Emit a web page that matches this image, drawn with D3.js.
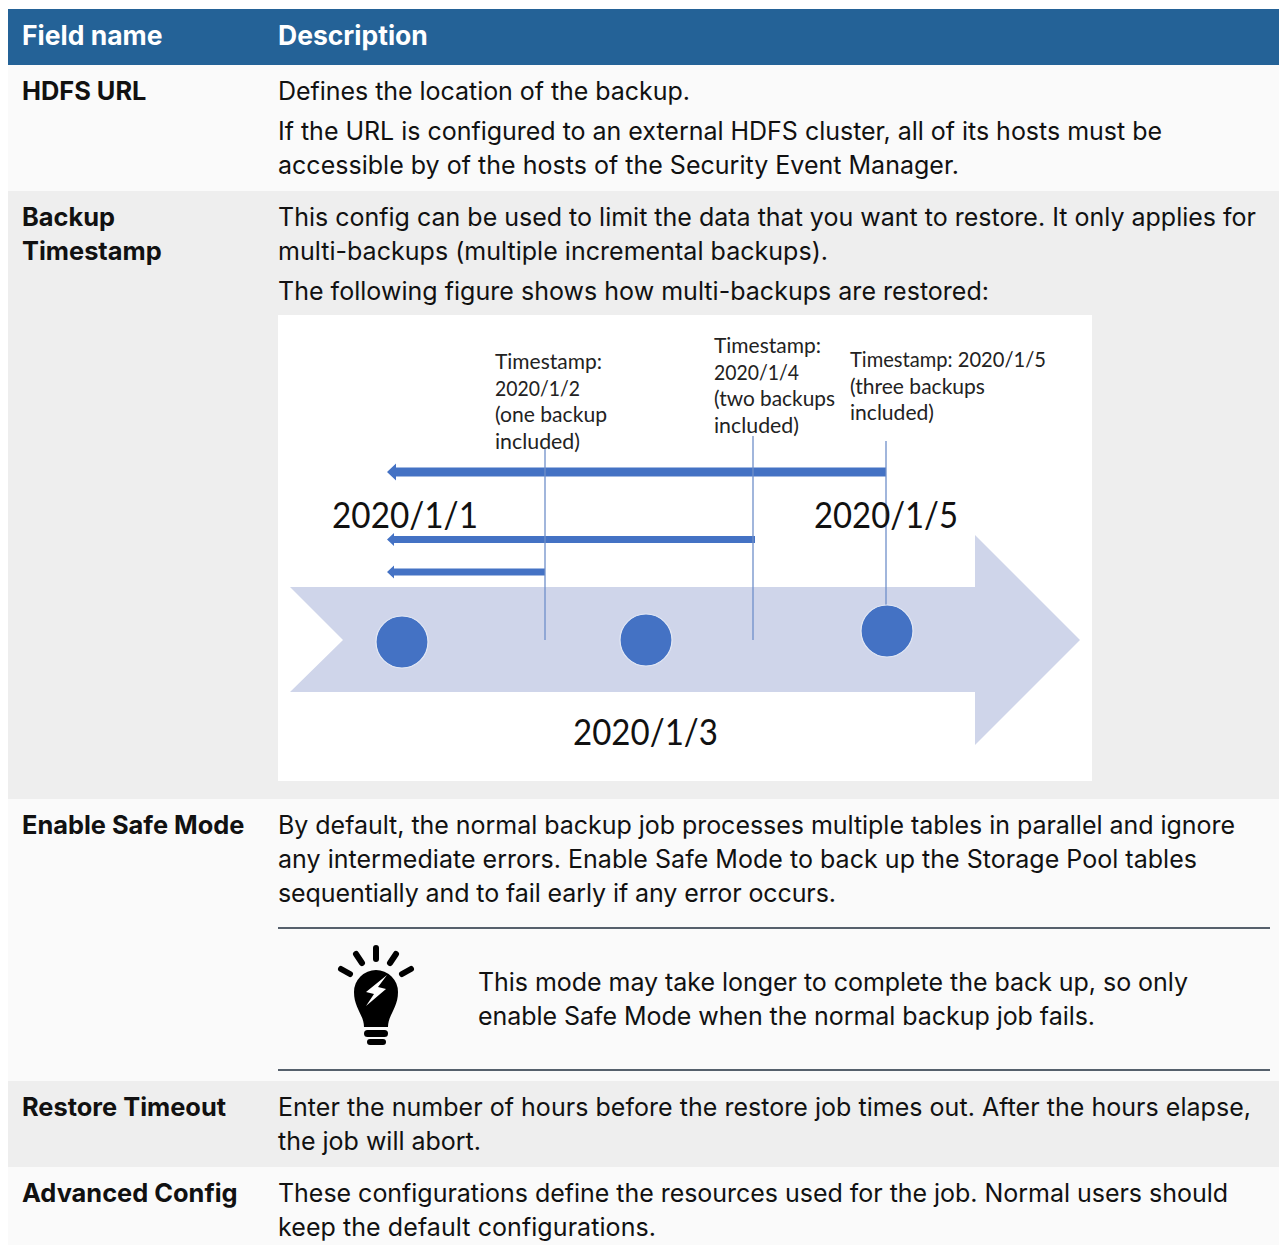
<!DOCTYPE html>
<html><head><meta charset="utf-8">
<script src="https://cdn.jsdelivr.net/npm/d3@7"></script>
<style>html,body{margin:0;padding:0;background:#fff}svg{display:block}</style>
</head><body><svg id="c" width="1279" height="1245"></svg>
<script>
const headers = ["Field name","Description"];
const fieldNames = [["HDFS URL"],["Backup","Timestamp"],["Enable Safe Mode"],["Restore Timeout"],["Advanced Config"]];
const descriptions = [
 ["Defines the location of the backup.","If the URL is configured to an external HDFS cluster, all of its hosts must be","accessible by of the hosts of the Security Event Manager."],
 ["This config can be used to limit the data that you want to restore. It only applies for","multi-backups (multiple incremental backups).","The following figure shows how multi-backups are restored:"],
 ["By default, the normal backup job processes multiple tables in parallel and ignore","any intermediate errors. Enable Safe Mode to back up the Storage Pool tables","sequentially and to fail early if any error occurs."],
 ["Enter the number of hours before the restore job times out. After the hours elapse,","the job will abort."],
 ["These configurations define the resources used for the job. Normal users should","keep the default configurations."]
];
const noteLines = ["This mode may take longer to complete the back up, so only","enable Safe Mode when the normal backup job fails."];
const days = [1,2,3,4,5];
const backupDays = [2,4,5];
const markerDays = [1,3,5];
const stampLabels = [
 ["Timestamp:","2020/1/2","(one backup","included)"],
 ["Timestamp:","2020/1/4","(two backups","included)"],
 ["Timestamp: 2020/1/5","(three backups","included)"]
];
const dateLabels = ["2020/1/1","2020/1/3","2020/1/5"];

// layout (kept apart from the data)
const svg = d3.select("#c");
const rowTop = [65,191,799,1081,1167,1245];
const rowFill = ["#fafafa","#eeeeee","#fafafa","#eeeeee","#fafafa"];
const descY = [[100,140,174],[226,260,300],[834,868,902],[1116,1150],[1202,1236]];
const descEnd = [[690,1162,959],[1256,828,989],[1235,1197,836],[1251,481],[1228,656]];
const nameY = [[100],[226,260],[834],[1116],[1202]];
const x = d3.scaleLinear().domain(days).range([402,545,646,753,886]);
const sans = "Inter, sans-serif", fig = "Lato, Carlito, sans-serif";

svg.append("rect").attr("x",8).attr("y",9).attr("width",1271).attr("height",56).attr("fill","#246297");
svg.selectAll(".band").data(rowFill).join("rect").attr("class","band")
 .attr("x",8).attr("width",1271).attr("y",(d,i)=>rowTop[i]).attr("height",(d,i)=>rowTop[i+1]-rowTop[i]).attr("fill",d=>d);
svg.selectAll(".head").data(headers).join("text").attr("class","head")
 .attr("x",(d,i)=>[22,278][i]).attr("y",45).attr("fill","#fff").attr("font-family",sans).attr("font-weight",700).attr("font-size",26.5).text(d=>d);

fieldNames.forEach((ls,i)=>ls.forEach((t,j)=>{
 svg.append("text").attr("x",22).attr("y",nameY[i][j]).attr("fill","#111").attr("font-family",sans)
  .attr("font-weight",700).attr("font-size",25.4).text(t);
}));
descriptions.forEach((ls,i)=>ls.forEach((t,j)=>{
 svg.append("text").attr("x",278).attr("y",descY[i][j]).attr("fill","#111").attr("font-family",sans)
  .attr("font-size",25).attr("textLength",descEnd[i][j]-278).attr("lengthAdjust","spacing").text(t);
}));

// figure
const g = svg.append("g");
g.append("rect").attr("x",278).attr("y",315).attr("width",814).attr("height",466).attr("fill","#fff");
g.append("path").attr("fill","#cfd5ea").attr("d",d3.line()([[290,587],[975,587],[975,535],[1080,640],[975,745],[975,692],[290,692],[343,640]])+"Z");

const barY=[572,539.5,472], barT=[7,7,9], headH=[13,13,17];
const tipX=387;
backupDays.forEach((d,i)=>{
 const end=x(d)+(d===4?2:0), m=barY[i], t=barT[i]/2, h=headH[i]/2, back=tipX+(i===2?9:7);
 g.append("path").attr("fill","#4472c4").attr("d",d3.line()([[end,m-t],[back,m-t],[back,m-h],[tipX,m],[back,m+h],[back,m+t],[end,m+t]])+"Z");
});
const vTop=[448,436,441], vBot=[640,640,610];
g.selectAll(".v").data(backupDays).join("line").attr("class","v")
 .attr("x1",d=>x(d)).attr("x2",d=>x(d)).attr("y1",(d,i)=>vTop[i]).attr("y2",(d,i)=>vBot[i])
 .attr("stroke","#6f8fc9").attr("stroke-width",1.3);
const dotY=[642,640,631], dotShift=[0,0,1];
g.selectAll(".dot").data(markerDays).join("circle").attr("class","dot")
 .attr("cx",(d,i)=>x(d)+dotShift[i]).attr("cy",(d,i)=>dotY[i]).attr("r",26)
 .attr("fill","#4472c4").attr("stroke","#e4e9f5").attr("stroke-width",1.2);

const stampX=[495,714,850], stampY=[369,353,367];
const stampEnd=[[602,580,607,580],[821,799,835,799],[1046,985,934]];
stampLabels.forEach((ls,i)=>ls.forEach((t,j)=>{
 g.append("text").attr("x",stampX[i]).attr("y",stampY[i]+j*26.6).attr("font-family",fig).attr("font-size",21.5).attr("fill","#222")
  .attr("textLength",stampEnd[i][j]-stampX[i]).attr("lengthAdjust","spacingAndGlyphs").text(t);
}));
const dateX=[332,573,814], dateLY=[528,745,528], dateW=[146,145,144];
g.selectAll(".date").data(dateLabels).join("text").attr("class","date")
 .attr("x",(d,i)=>dateX[i]).attr("y",(d,i)=>dateLY[i]).attr("font-family",fig).attr("font-size",37).attr("fill","#111")
 .attr("textLength",(d,i)=>dateW[i]).attr("lengthAdjust","spacingAndGlyphs").text(d=>d);

// note block
svg.selectAll(".rule").data([928,1070]).join("line").attr("class","rule")
 .attr("x1",278).attr("x2",1270).attr("y1",d=>d).attr("y2",d=>d).attr("stroke","#1f2d3d").attr("stroke-width",1.5);
const noteEnd=[1188,1095];
noteLines.forEach((t,i)=>svg.append("text").attr("x",478).attr("y",991+i*34).attr("font-family",sans).attr("font-size",25).attr("fill","#111")
 .attr("textLength",noteEnd[i]-478).attr("lengthAdjust","spacing").text(t));

// bulb icon
const b = svg.append("g");
[[[376,948],[376,959]],[[356,954],[362,963]],[[396,954],[390,963]],[[341,969],[350,974]],[[411,969],[402,974]]].forEach(r=>{
 b.append("path").attr("d",d3.line()(r)).attr("stroke","#000").attr("stroke-width",6).attr("stroke-linecap","round");
});
b.append("path").attr("fill","#000").attr("d","M364 1027 C364 1015 354 1008 354 992 A22 22 0 0 1 398 992 C398 1008 388 1015 388 1027 Z");
b.append("path").attr("fill","#fff").attr("d",d3.line()([[387,975],[366,992],[374,994],[366,1006],[386,989],[378,987]])+"Z");
b.append("rect").attr("x",364).attr("y",1030).attr("width",24).attr("height",7).attr("rx",3.5);
b.append("rect").attr("x",367).attr("y",1039).attr("width",19).attr("height",6).attr("rx",3);
</script></body></html>
